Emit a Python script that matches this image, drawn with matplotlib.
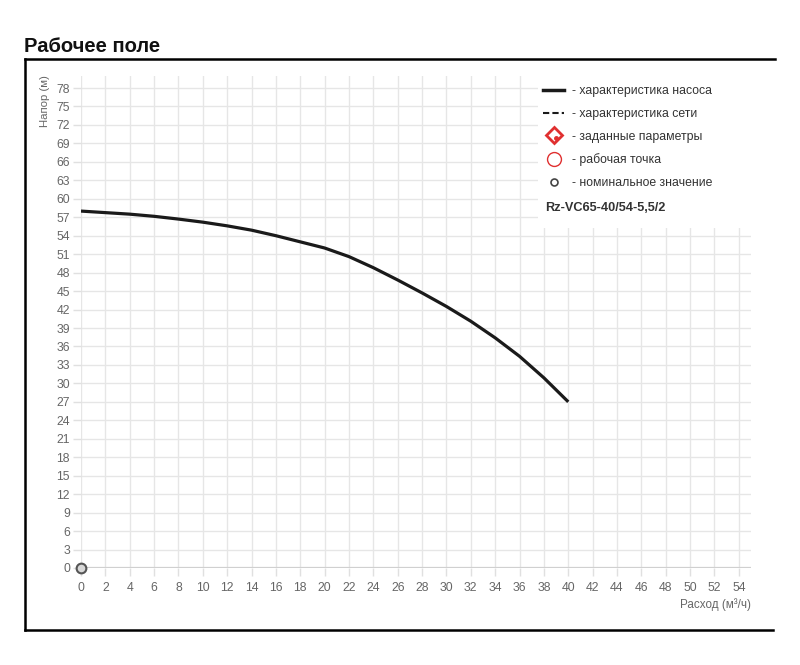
import matplotlib
matplotlib.use("Agg")
import matplotlib.pyplot as plt
from matplotlib.lines import Line2D
from matplotlib.patches import Rectangle

plt.rcParams["font.family"] = ["Liberation Sans", "DejaVu Sans"]

# --- data ---
flow = [0, 2, 4, 6, 8, 10, 12, 14, 16, 18, 20, 22, 24, 26, 28, 30, 32, 34, 36, 38, 40]
head = [58.0, 57.75, 57.5, 57.15, 56.7, 56.2, 55.6, 54.9, 54.0, 53.0, 52.0, 50.6,
        48.8, 46.8, 44.7, 42.5, 40.1, 37.4, 34.4, 30.9, 27.0]
nominal_q = [0]
nominal_h = [0]
x_ticks = list(range(0, 55, 2))
y_ticks = list(range(0, 79, 3))
model_name = "Rz-VC65-40/54-5,5/2"
legend_labels = [
    "- характеристика насоса",
    "- характеристика сети",
    "- заданные параметры",
    "- рабочая точка",
    "- номинальное значение",
]

W, H = 800, 665
fig = plt.figure(figsize=(W / 100, H / 100), dpi=100)

def fx(px):
    return px / W

def fy(py):
    return 1 - py / H

ax = fig.add_axes([fx(81), fy(568), fx(751) - fx(81), fy(75.7) - fy(568)])
ax.set_xlim(0, 55)
ax.set_ylim(0, 80)
ax.set_xticks(x_ticks)
ax.set_yticks(y_ticks)
ax.grid(True, color="#e6e6e6", linewidth=1)
ax.set_axisbelow(True)
for s in ax.spines.values():
    s.set_visible(False)
ax.axhline(0, color="#d0d0d0", linewidth=1.6, zorder=1)
ax.tick_params(axis="both", colors="#e0e0e0", labelcolor="#666666", labelsize=8.8,
               length=6, width=1)
ax.tick_params(axis="y", pad=2)
ax.tick_params(axis="x", pad=4)

ax.plot(flow, head, color="#1a1a1a", linewidth=2.3, solid_joinstyle="round",
        solid_capstyle="butt", zorder=3)
ax.plot(nominal_q, nominal_h, "o", markersize=7, markerfacecolor="#d8d8d8",
        markeredgecolor="#555555", markeredgewidth=1.5, clip_on=False, zorder=4)

# legend block with white background
ax.add_patch(Rectangle((fx(538), fy(228)), fx(751) - fx(538), fy(75) - fy(228),
                       transform=fig.transFigure, facecolor="white", edgecolor="none",
                       zorder=5))
handles = [
    Line2D([], [], color="#1a1a1a", linewidth=2.5),
    Line2D([], [], color="#1a1a1a", linewidth=1.5, linestyle=(0, (3, 1.5))),
    Line2D([], [], marker="D", linestyle="none", markersize=8, markerfacecolor="white",
           markeredgecolor="#e03030", markeredgewidth=2),
    Line2D([], [], marker="o", linestyle="none", markersize=10, markerfacecolor="white",
           markeredgecolor="#e03030", markeredgewidth=1),
    Line2D([], [], marker="o", linestyle="none", markersize=5, markerfacecolor="white",
           markeredgecolor="#444444", markeredgewidth=1.2),
]
leg = ax.legend(handles, legend_labels, loc="upper left",
                bbox_to_anchor=(fx(537), fy(79)), bbox_transform=fig.transFigure,
                frameon=False, fontsize=8.8, labelspacing=0.88, handlelength=1.7,
                handletextpad=0.65, borderpad=0)
leg.set_zorder(6)
for t in leg.get_texts():
    t.set_color("#333333")
# small red dot inside the "заданные параметры" marker
fig.add_artist(Line2D([fx(555.5)], [fy(137.5)], marker="o", markersize=2.5,
                      color="#e03030", transform=fig.transFigure, zorder=8))
fig.text(fx(545), fy(208), model_name, fontsize=9.2, fontweight="bold", color="#333333",
         va="center", ha="left", zorder=7)

# titles and axis labels
fig.text(fx(24), fy(47), "Рабочее поле", fontsize=14.5, fontweight="bold",
         color="#111111", va="center", ha="left")
fig.text(fx(45), fy(75), "Напор (м)", rotation=90, fontsize=8.2, color="#666666",
         ha="center", va="top")
fig.text(fx(751), fy(605), "Расход (м³/ч)", fontsize=8.4, color="#666666",
         ha="right", va="center")

# outer frame (open on the right)
frame = dict(color="black", linewidth=1.8, transform=fig.transFigure)
fig.add_artist(Line2D([fx(25), fx(775)], [fy(59), fy(59)], **frame))
fig.add_artist(Line2D([fx(25), fx(25)], [fy(59), fy(630)], **frame))
fig.add_artist(Line2D([fx(25), fx(773)], [fy(630), fy(630)], **frame))

fig.savefig("out.png", dpi=100, facecolor="white")
